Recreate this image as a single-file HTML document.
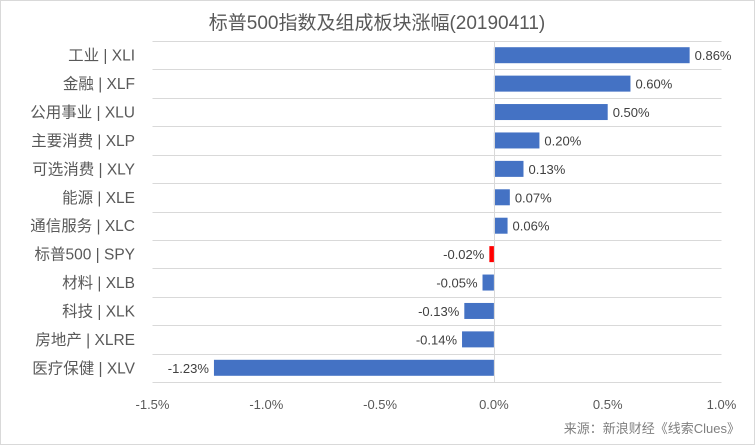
<!DOCTYPE html>
<html><head><meta charset="utf-8"><style>
body{margin:0;background:#fff;}
svg{display:block;font-family:"Liberation Sans","Noto Sans CJK SC",sans-serif;}
</style></head><body>
<svg width="755" height="445">
<rect x="0.5" y="0.5" width="754" height="444" fill="#fff" stroke="#d9d9d9"/>
<text x="377" y="29" text-anchor="middle" font-size="19" fill="#595959">标普500指数及组成板块涨幅(20190411)</text>
<g id="plot"></g>
<text x="740" y="433" text-anchor="end" font-size="13" fill="#7f7f7f">来源：新浪财经《线索Clues》</text>
</svg>
<script>
const categories=["工业 | XLI","金融 | XLF","公用事业 | XLU","主要消费 | XLP","可选消费 | XLY","能源 | XLE","通信服务 | XLC","标普500 | SPY","材料 | XLB","科技 | XLK","房地产 | XLRE","医疗保健 | XLV"];
const values=[0.86,0.60,0.50,0.20,0.13,0.07,0.06,-0.02,-0.05,-0.13,-0.14,-1.23];
const valueLabels=["0.86%","0.60%","0.50%","0.20%","0.13%","0.07%","0.06%","-0.02%","-0.05%","-0.13%","-0.14%","-1.23%"];
const ticks=[-1.5,-1.0,-0.5,0.0,0.5,1.0];
const tickLabels=["-1.5%","-1.0%","-0.5%","0.0%","0.5%","1.0%"];
const highlight="标普500 | SPY";
const NS="http://www.w3.org/2000/svg";
const g=document.getElementById('plot');
const x0=152.5,x1=721.5,plotTop=41,plotBottom=382;
const xs=v=>x0+(v-(-1.5))/(1.0-(-1.5))*(x1-x0);
const rowH=(plotBottom-plotTop)/categories.length;
const ys=i=>plotTop+i*rowH;
function el(t,a){const e=document.createElementNS(NS,t);for(const k in a)e.setAttribute(k,a[k]);g.appendChild(e);return e;}
for(let i=0;i<=categories.length;i++){
 const l=el('line',{x1:x0,x2:x1,y1:Math.round(ys(i))+0.5,y2:Math.round(ys(i))+0.5,stroke:'#d9d9d9'});
 
 
}
categories.forEach((c,i)=>{
 const v=values[i];const yc=ys(i)+rowH/2;
 const r=el('rect',{x:Math.min(xs(0),xs(v)),y:yc-8,width:Math.abs(xs(v)-xs(0)),height:16,fill:c===highlight?'#ff0000':'#4472c4'});
 
 
 const t=el('text',{x:135,y:yc+5.5,'text-anchor':'end','font-size':15.5,fill:'#595959'});t.textContent=c;
 
 
 const vl=el('text',{x:v>=0?xs(v)+5:xs(v)-5,y:yc+5,'text-anchor':v>=0?'start':'end','font-size':13,fill:'#404040'});vl.textContent=valueLabels[i];
 
 
});
const ax=el('line',{x1:Math.round(xs(0))+0.5,x2:Math.round(xs(0))+0.5,y1:plotTop,y2:plotBottom,stroke:'#d9d9d9'});


ticks.forEach((v,i)=>{
 const t=el('text',{x:xs(v),y:409,'text-anchor':'middle','font-size':13,fill:'#595959'});t.textContent=tickLabels[i];
 
 
});
</script>
</body></html>
